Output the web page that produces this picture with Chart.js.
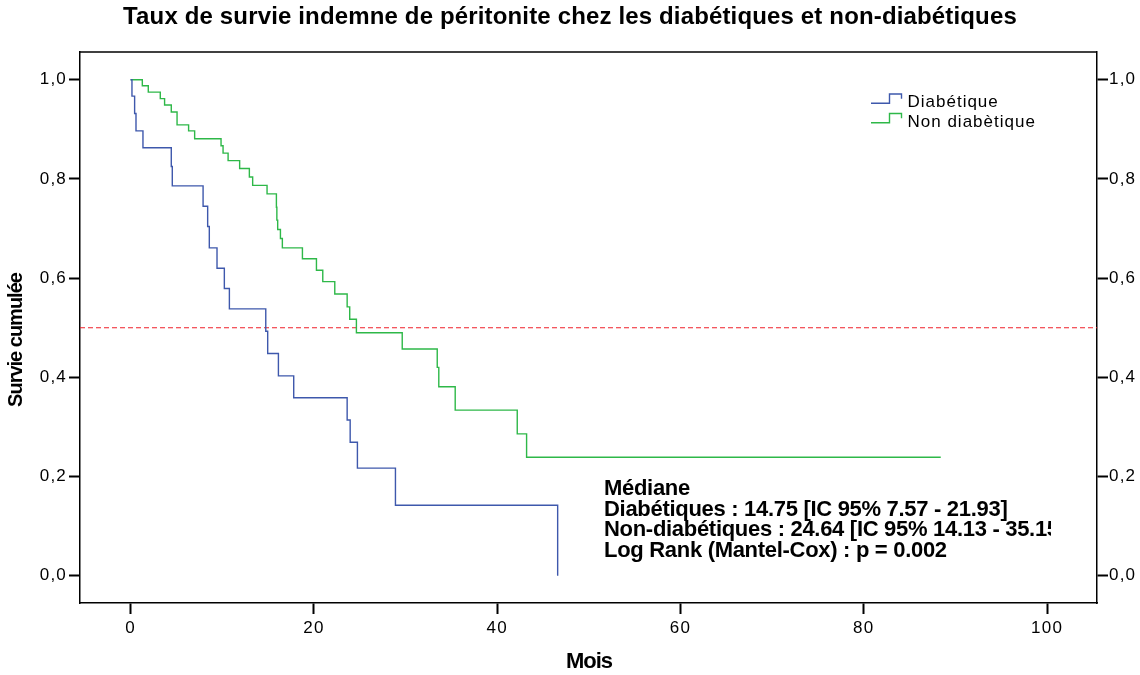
<!DOCTYPE html>
<html>
<head>
<meta charset="utf-8">
<title>Survie indemne de péritonite</title>
<script src="https://cdn.jsdelivr.net/npm/chart.js@4.4.1/dist/chart.umd.min.js"></script>
<style>
    html, body { margin: 0; padding: 0; background: #fff; }
</style>
</head>
<body>
<canvas id="kmChart" width="1140" height="675"></canvas>
<script>
// Kaplan-Meier steps (time in months, cumulative survival)
const diabTimes = [0, 0.15, 0.44, 0.59, 1.35, 4.44, 4.55, 7.91, 8.41, 8.59, 9.43, 10.23, 10.78, 14.75, 14.96, 16.13, 17.8, 23.63, 23.96, 24.75, 28.9, 46.6];
const diabSurv = [1, 0.967, 0.932, 0.897, 0.863, 0.825, 0.786, 0.745, 0.704, 0.661, 0.620, 0.579, 0.538, 0.493, 0.448, 0.403, 0.359, 0.314, 0.269, 0.217, 0.142, 0];

const nonTimes = [0, 1.28, 1.93, 3.24, 3.71, 4.44, 5.07, 6.33, 6.99, 9.87, 10.09, 10.64, 11.9, 12.96, 13.32, 14.89, 15.91, 15.96, 16.05, 16.35, 16.56, 18.75, 20.28, 20.97, 22.28, 23.63, 23.91, 24.64, 29.64, 33.46, 33.63, 35.42, 42.19, 43.21, 88.4];
const nonSurv = [1, 0.988, 0.975, 0.962, 0.949, 0.935, 0.909, 0.897, 0.881, 0.867, 0.852, 0.837, 0.821, 0.804, 0.787, 0.770, 0.743, 0.717, 0.698, 0.680, 0.661, 0.639, 0.616, 0.593, 0.568, 0.542, 0.517, 0.490, 0.457, 0.420, 0.381, 0.334, 0.286, 0.239, 0.239];

// Reference line at 50% survival
const medianLevel = 0.5;

// Axis ranges and tick labels
const xMin = -5.52;
const xMax = 105.45;
const yMin = -0.055;
const yMax = 1.056;
const xTickValues = [0, 20, 40, 60, 80, 100];
const yTickValues = [0, 0.2, 0.4, 0.6, 0.8, 1.0];

// Texts
const chartTitle = 'Taux de survie indemne de péritonite chez les diabétiques et non-diabétiques';
const xTitle = 'Mois';
const yTitle = 'Survie cumulée';
const legendLabels = ['Diabétique', 'Non diabètique'];
const statLines = [
    'Médiane',
    'Diabétiques : 14.75 [IC 95% 7.57 - 21.93]',
    'Non-diabétiques : 24.64 [IC 95% 14.13 - 35.15]',
    'Log Rank (Mantel-Cox) : p = 0.002'
];

const blue = '#3e58ac';
const green = '#2eb848';
const red = '#f0202a';
const FONT = '"Liberation Sans", Arial, Helvetica, sans-serif';

function toPoints(xs, ys) {
    return xs.map((x, i) => ({ x: x, y: ys[i] }));
}

function formatTick(value) {
    return value.toFixed(1).replace('.', ',');
}

// Draws the frame top, titles, legend and the median box
const decorations = {
    id: 'decorations',
    beforeDraw(chart) {
        // tick labels in the reference are a bit spaced out
        chart.ctx.letterSpacing = '1.2px';
    },
    afterDraw(chart) {
        const ctx = chart.ctx;
        const area = chart.chartArea;
        ctx.save();

        // top edge of the frame
        ctx.strokeStyle = '#000';
        ctx.lineWidth = 1.5;
        ctx.beginPath();
        ctx.moveTo(area.left, area.top);
        ctx.lineTo(area.right, area.top);
        ctx.stroke();

        ctx.fillStyle = '#000';
        ctx.textBaseline = 'alphabetic';

        // main title
        ctx.letterSpacing = '0.15px';
        ctx.font = 'bold 24px ' + FONT;
        ctx.textAlign = 'center';
        ctx.fillText(chartTitle, 570, 24);

        // axis titles
        ctx.letterSpacing = '-1px';
        ctx.font = 'bold 22px ' + FONT;
        ctx.fillText(xTitle, 589, 668);
        ctx.save();
        ctx.font = 'bold 20px ' + FONT;
        ctx.translate(22, 340);
        ctx.rotate(-Math.PI / 2);
        ctx.fillText(yTitle, 0, 0);
        ctx.restore();

        // legend with step shaped symbols
        const colors = [blue, green];
        ctx.letterSpacing = '1px';
        ctx.font = '17px ' + FONT;
        ctx.textAlign = 'left';
        legendLabels.forEach((label, i) => {
            const base = 103.3 + i * 19.5;
            ctx.strokeStyle = colors[i];
            ctx.lineWidth = 1.4;
            ctx.beginPath();
            ctx.moveTo(871, base);
            ctx.lineTo(889.5, base);
            ctx.lineTo(889.5, base - 9.3);
            ctx.lineTo(901.5, base - 9.3);
            ctx.lineTo(901.5, base - 4.5);
            ctx.stroke();
            ctx.fillText(label, 907.5, 106.7 + i * 20);
        });

        // median / log rank box, clipped on the right like the original
        ctx.beginPath();
        ctx.rect(0, 0, 1051, 675);
        ctx.clip();
        ctx.letterSpacing = '-0.3px';
        ctx.font = 'bold 22px ' + FONT;
        statLines.forEach((line, i) => {
            ctx.fillText(line, 604, 495 + i * 20.7);
        });

        ctx.restore();
    }
};

function setTicks(values) {
    return scale => {
        scale.ticks = values.map(v => ({ value: v }));
    };
}

const axisFont = { family: FONT, size: 17 };

function displayChart() {
    const ctx = document.getElementById('kmChart');

    new Chart(ctx, {
        type: 'line',
        data: {
            datasets: [
                {
                    label: legendLabels[0],
                    data: toPoints(diabTimes, diabSurv),
                    borderColor: blue,
                    borderWidth: 1.4,
                    stepped: 'before',
                    pointRadius: 0,
                    fill: false
                },
                {
                    label: legendLabels[1],
                    data: toPoints(nonTimes, nonSurv),
                    borderColor: green,
                    borderWidth: 1.4,
                    stepped: 'before',
                    pointRadius: 0,
                    fill: false
                },
                {
                    label: 'Médiane',
                    data: [{ x: xMin, y: medianLevel }, { x: xMax, y: medianLevel }],
                    borderColor: red,
                    borderWidth: 1.2,
                    borderDash: [5, 3],
                    pointRadius: 0,
                    fill: false
                }
            ]
        },
        options: {
            responsive: false,
            animation: false,
            events: [],
            layout: { padding: { top: 52, left: 0, right: 0, bottom: 0 } },
            plugins: {
                legend: { display: false },
                title: { display: false },
                tooltip: { enabled: false }
            },
            scales: {
                x: {
                    type: 'linear',
                    position: 'bottom',
                    min: xMin,
                    max: xMax,
                    afterBuildTicks: setTicks(xTickValues),
                    afterFit: scale => { scale.height = 72; },
                    ticks: { font: axisFont, color: '#000', padding: 4, maxRotation: 0 },
                    grid: { drawOnChartArea: false, drawTicks: true, tickLength: 11, tickWidth: 2, tickColor: '#000' },
                    border: { display: true, color: '#000', width: 1.5 }
                },
                y: {
                    type: 'linear',
                    position: 'left',
                    min: yMin,
                    max: yMax,
                    afterBuildTicks: setTicks(yTickValues),
                    afterFit: scale => { scale.width = 80; },
                    ticks: { font: axisFont, color: '#000', padding: 2, callback: formatTick },
                    grid: { drawOnChartArea: false, drawTicks: true, tickLength: 11, tickWidth: 2, tickColor: '#000' },
                    border: { display: true, color: '#000', width: 1.5 }
                },
                y2: {
                    type: 'linear',
                    position: 'right',
                    min: yMin,
                    max: yMax,
                    afterBuildTicks: setTicks(yTickValues),
                    afterFit: scale => { scale.width = 43; },
                    ticks: { font: axisFont, color: '#000', padding: 1, callback: formatTick },
                    grid: { drawOnChartArea: false, drawTicks: true, tickLength: 11, tickWidth: 2, tickColor: '#000' },
                    border: { display: true, color: '#000', width: 1.5 }
                }
            }
        },
        plugins: [decorations]
    });
}

document.addEventListener('DOMContentLoaded', displayChart);
</script>
</body>
</html>
